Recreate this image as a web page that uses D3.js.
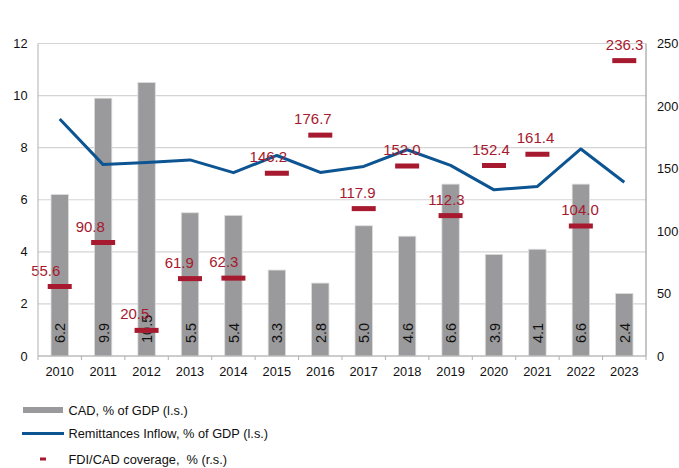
<!DOCTYPE html>
<html>
<head>
<meta charset="utf-8">
<script src="https://cdn.jsdelivr.net/npm/d3@7"></script>
<style>
  body { margin: 0; background: #fff; }
  svg text { font-family: "Liberation Sans", Arial, sans-serif; white-space: pre; }
</style>
</head>
<body>
<div id="chart"></div>
<script>
// Values
const years = ["2010","2011","2012","2013","2014","2015","2016","2017","2018","2019","2020","2021","2022","2023"];
const cad = [6.2, 9.9, 10.5, 5.5, 5.4, 3.3, 2.8, 5.0, 4.6, 6.6, 3.9, 4.1, 6.6, 2.4];
const remittances = [9.1, 7.35, 7.43, 7.53, 7.04, 7.7, 7.05, 7.28, 7.92, 7.32, 6.38, 6.51, 7.95, 6.67];
const fdiCoverage = [55.6, 90.8, 20.5, 61.9, 62.3, 146.2, 176.7, 117.9, 152.0, 112.3, 152.4, 161.4, 104.0, 236.3];
const leftTicks = [0, 2, 4, 6, 8, 10, 12];
const rightTicks = [0, 50, 100, 150, 200, 250];
const legendLabels = ["CAD, % of GDP (l.s.)", "Remittances Inflow, % of GDP (l.s.)", "FDI/CAD coverage,  % (r.s.)"];

const width = 679, height = 468;
const margin = { top: 43.5, right: 33, bottom: 112, left: 38 };
const innerWidth = width - margin.left - margin.right;
const innerHeight = height - margin.top - margin.bottom;

const grey = "#9a9a9c", blue = "#0d5592", red = "#a6192e";

const svg = d3.select("#chart").append("svg")
  .attr("width", width)
  .attr("height", height);

const g = svg.append("g")
  .attr("transform", "translate(" + margin.left + "," + margin.top + ")");

const x = d3.scaleBand().domain(years).range([0, innerWidth]).padding(0);
const yL = d3.scaleLinear().domain([0, 12]).range([innerHeight, 0]);
const yR = d3.scaleLinear().domain([0, 250]).range([innerHeight, 0]);

// gridlines
g.selectAll(".grid")
  .data(leftTicks)
  .enter().append("line")
    .attr("x1", 0).attr("x2", innerWidth)
    .attr("y1", d => yL(d)).attr("y2", d => yL(d))
    .attr("stroke", "#d4d4d4").attr("stroke-width", 1.2);

// bars
const barW = x.bandwidth() * 0.4;
g.selectAll(".bar")
  .data(years)
  .enter().append("rect")
    .attr("x", (d) => x(d) + (x.bandwidth() - barW) / 2)
    .attr("width", barW)
    .attr("y", (d, i) => yL(cad[i]))
    .attr("height", (d, i) => innerHeight - yL(cad[i]))
    .attr("fill", grey)
    .attr("stroke", "#dcdcdc").attr("stroke-width", 0.8);

// bar value labels, rotated
g.selectAll(".barLabel")
  .data(years)
  .enter().append("text")
    .attr("transform", d => "translate(" + (x(d) + x.bandwidth() / 2 + 5.5) + "," + (innerHeight - 13) + ") rotate(-90)")
    .attr("font-size", "14.5px")
    .attr("fill", "#111")
    .text((d, i) => cad[i].toFixed(1));

// remittances line
const line = d3.line()
  .x((d, i) => x(years[i]) + x.bandwidth() / 2)
  .y(d => yL(d));
g.append("path")
  .datum(remittances)
  .attr("fill", "none")
  .attr("stroke", blue)
  .attr("stroke-width", 3)
  .attr("stroke-linejoin", "round")
  .attr("d", line);

// FDI/CAD dash markers
g.selectAll(".fdi")
  .data(years)
  .enter().append("rect")
    .attr("x", d => x(d) + x.bandwidth() / 2 - 12)
    .attr("width", 24)
    .attr("y", (d, i) => yR(fdiCoverage[i]) - 2.5)
    .attr("height", 5)
    .attr("fill", red);

g.selectAll(".fdiLabel")
  .data(years)
  .enter().append("text")
    .attr("x", (d, i) => x(d) + x.bandwidth() / 2 - 14 + i * 1.1)
    .attr("y", (d, i) => yR(fdiCoverage[i]) - 11)
    .attr("text-anchor", "middle")
    .attr("font-size", "15px")
    .attr("fill", red)
    .text((d, i) => fdiCoverage[i].toFixed(1));

// axes lines
g.append("line").attr("x1", 0).attr("x2", 0).attr("y1", 0).attr("y2", innerHeight)
  .attr("stroke", "#b0b0b0").attr("stroke-width", 1);
g.append("line").attr("x1", innerWidth).attr("x2", innerWidth).attr("y1", 0).attr("y2", innerHeight)
  .attr("stroke", "#8c8c8c").attr("stroke-width", 1);
g.append("line").attr("x1", 0).attr("x2", innerWidth).attr("y1", innerHeight).attr("y2", innerHeight)
  .attr("stroke", "#b0b0b0").attr("stroke-width", 1);

// x ticks at band boundaries
g.selectAll(".xtick")
  .data(years.concat(["end"]))
  .enter().append("line")
    .attr("x1", (d, i) => i * x.step()).attr("x2", (d, i) => i * x.step())
    .attr("y1", innerHeight).attr("y2", innerHeight + 4)
    .attr("stroke", "#b0b0b0");

g.selectAll(".xLabel")
  .data(years)
  .enter().append("text")
    .attr("x", d => x(d) + x.bandwidth() / 2)
    .attr("y", innerHeight + 20)
    .attr("text-anchor", "middle")
    .attr("font-size", "12.8px")
    .attr("fill", "#111")
    .text(d => d);

g.selectAll(".yLabel")
  .data(leftTicks)
  .enter().append("text")
    .attr("x", -10.5)
    .attr("y", d => yL(d) + 4.5)
    .attr("text-anchor", "end")
    .attr("font-size", "12.8px")
    .attr("fill", "#111")
    .text(d => d);

g.selectAll(".yRLabel")
  .data(rightTicks)
  .enter().append("text")
    .attr("x", innerWidth + 11)
    .attr("y", d => yR(d) + 4.5)
    .attr("font-size", "12.8px")
    .attr("fill", "#111")
    .text(d => d);

// legend
const legend = svg.append("g");
const ly = [410, 433.5, 459];
legend.append("rect").attr("x", 23).attr("y", ly[0] - 3).attr("width", 40).attr("height", 6).attr("fill", grey);
legend.append("line").attr("x1", 22).attr("x2", 64).attr("y1", ly[1]).attr("y2", ly[1])
  .attr("stroke", blue).attr("stroke-width", 3);
legend.append("rect").attr("x", 40).attr("y", ly[2] - 1.5).attr("width", 6).attr("height", 3).attr("fill", red);
legend.selectAll(".legText")
  .data(legendLabels)
  .enter().append("text")
    .attr("x", 68.5)
    .attr("y", (d, i) => ly[i] + 4.5)
    .attr("font-size", "12.8px")
    .attr("fill", "#111")
    .text(d => d);
</script>
</body>
</html>
